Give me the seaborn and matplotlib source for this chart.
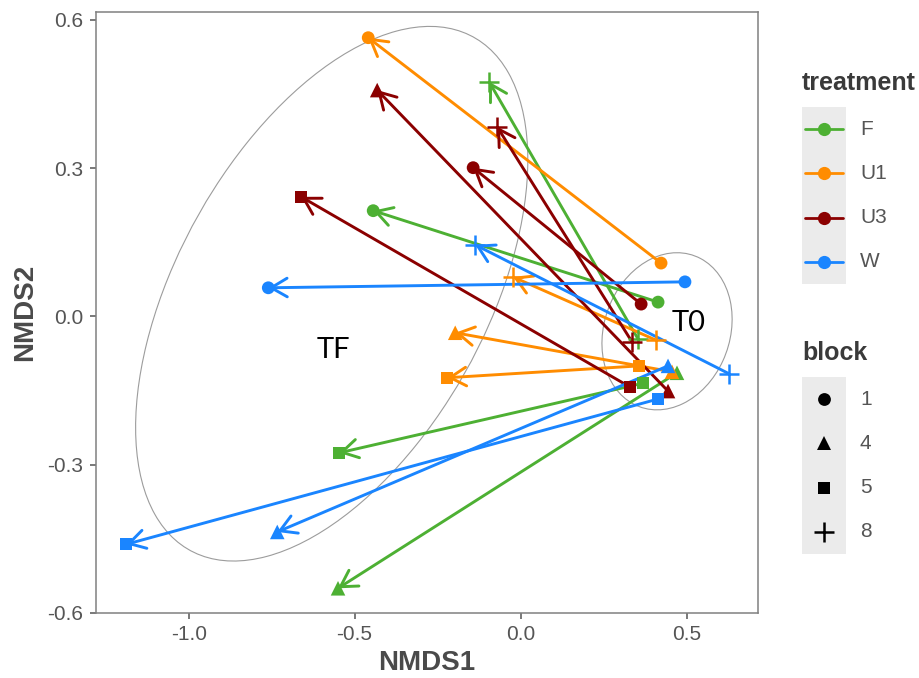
import numpy as np
import pandas as pd
import matplotlib
matplotlib.use("Agg")
import matplotlib.pyplot as plt
from matplotlib.patches import Ellipse, Rectangle
from matplotlib.lines import Line2D
import seaborn as sns

# ---------------- data ----------------
treatments = ["F"] * 4 + ["U1"] * 4 + ["U3"] * 4 + ["W"] * 4
blocks = [1, 4, 5, 8] * 4

# start points (T0)
t0_x = [0.414, 0.471, 0.369, 0.354,
        0.423, 0.456, 0.357, 0.408,
        0.363, 0.444, 0.330, 0.336,
        0.495, 0.444, 0.414, 0.628]
t0_y = [0.029, -0.114, -0.135, -0.046,
        0.108, -0.112, -0.100, -0.048,
        0.025, -0.151, -0.143, -0.052,
        0.070, -0.100, -0.167, -0.116]
# end points (TF)
tf_x = [-0.444, -0.550, -0.547, -0.095,
        -0.459, -0.197, -0.221, -0.023,
        -0.143, -0.432, -0.661, -0.071,
        -0.760, -0.733, -1.188, -0.137]
tf_y = [0.214, -0.550, -0.276, 0.475,
        0.564, -0.033, -0.124, 0.080,
        0.301, 0.458, 0.242, 0.384,
        0.058, -0.436, -0.461, 0.145]

treatment_levels = ["F", "U1", "U3", "W"]
treatment_colors = ["#4DB033", "#FF8C00", "#8B0000", "#1A85FF"]
block_levels = [1, 4, 5, 8]
block_markers = ["o", "^", "s", "+"]
block_sizes = [85, 110, 78, 200]

# group ellipses
ellipse_names = ["TF", "T0"]
ellipse_cx = [-0.569, 0.441]
ellipse_cy = [0.046, -0.030]
ellipse_w = [1.39, 0.40]
ellipse_h = [0.796, 0.308]
ellipse_angle = [40, 18]
label_x = [-0.565, 0.506]
label_y = [-0.068, -0.014]

x_ticks = [-1.0, -0.5, 0.0, 0.5]
x_ticklabels = ["-1.0", "-0.5", "0.0", "0.5"]
y_ticks = [-0.6, -0.3, 0.0, 0.3, 0.6]
y_ticklabels = ["-0.6", "-0.3", "0.0", "0.3", "0.6"]

# ---------------- style ----------------
sns.set_style("white")
plt.rcParams["font.family"] = ["Liberation Sans", "DejaVu Sans"]
plt.rcParams["axes.unicode_minus"] = False

palette = dict(zip(treatment_levels, treatment_colors))
W, H = 920, 678
fig = plt.figure(figsize=(W / 100, H / 100), dpi=100)
L, R, T, B = 96, 758, 12, 613
ax = fig.add_axes([L / W, 1 - B / H, (R - L) / W, (B - T) / H])

df = pd.DataFrame({
    "treatment": treatments * 2,
    "block": blocks * 2,
    "x": t0_x + tf_x,
    "y": t0_y + tf_y,
})

# ellipses
for cx, cy, w, h, a in zip(ellipse_cx, ellipse_cy, ellipse_w, ellipse_h, ellipse_angle):
    ax.add_patch(Ellipse((cx, cy), w, h, angle=a, fill=False,
                         edgecolor="#9c9c9c", lw=0.8, zorder=1))

# arrows
for tr, x0, y0, x1, y1 in zip(treatments, t0_x, t0_y, tf_x, tf_y):
    ax.annotate("", xy=(x1, y1), xytext=(x0, y0),
                arrowprops=dict(arrowstyle="->,head_length=1.15,head_width=0.67",
                                color=palette[tr], lw=2.1, shrinkA=0, shrinkB=0,
                                mutation_scale=10),
                zorder=2)

# points
for b, m, s in zip(block_levels, block_markers, block_sizes):
    sub = df[df["block"] == b]
    kw = dict(linewidth=1.8) if m == "+" else dict(linewidth=0)
    sns.scatterplot(data=sub, x="x", y="y", hue="treatment", palette=palette,
                    marker=m, s=s, legend=False, ax=ax, zorder=3, **kw)

for name, lx, ly in zip(ellipse_names, label_x, label_y):
    ax.text(lx, ly, name, fontsize=21, family=["Lato", "DejaVu Sans"],
            ha="center", va="center", color="black", zorder=4)

ax.set_xlim(-1.279, 0.715)
ax.set_ylim(-0.600, 0.616)
ax.set_xticks(x_ticks)
ax.set_xticklabels(x_ticklabels)
ax.set_yticks(y_ticks)
ax.set_yticklabels(y_ticklabels)
ax.tick_params(axis="both", which="both", direction="out", length=4, width=1.1,
               color="#555555", labelsize=15, labelcolor="#555555", pad=5,
               bottom=True, left=True)
for sp in ax.spines.values():
    sp.set_color("#808080")
    sp.set_linewidth(1.1)
ax.grid(False)

ax.set_xlabel("NMDS1", fontsize=20, fontweight="bold", color="#4a4a4a")
ax.set_ylabel("NMDS2", fontsize=20, fontweight="bold", color="#4a4a4a")
ax.xaxis.set_label_coords(0.5, (B - 663) / (B - T))
ax.xaxis.label.set_va("center")
ax.yaxis.set_label_coords((25 - L) / (R - L), 0.5)
ax.yaxis.label.set_va("center")

# ---------------- legends (manual) ----------------
def fx(px):
    return px / W

def fy(py):
    return 1 - py / H

key_left, key_right = 802, 846
key_h = 44.25

# treatment
fig.text(fx(802), fy(83), "treatment", fontsize=18, fontweight="bold",
         color="#3a3a3a", ha="left", va="center")
top = 107
fig.add_artist(Rectangle((fx(key_left), fy(top + 4 * key_h)), fx(key_right - key_left),
                         4 * key_h / H, transform=fig.transFigure,
                         facecolor="#EBEBEB", edgecolor="none"))
for i, (lev, col) in enumerate(zip(treatment_levels, treatment_colors)):
    cy = top + key_h * (i + 0.5)
    fig.add_artist(Line2D([fx(805), fx(843)], [fy(cy), fy(cy)], color=col, lw=2.0,
                          transform=fig.transFigure))
    fig.add_artist(Line2D([fx(824)], [fy(cy)], marker="o", markersize=9.5,
                          color=col, markeredgewidth=0, transform=fig.transFigure))
    fig.text(fx(860), fy(cy), lev, fontsize=15, color="#555555", ha="left", va="center")

# block
fig.text(fx(802), fy(353), "block", fontsize=18, fontweight="bold",
         color="#3a3a3a", ha="left", va="center")
top = 377
fig.add_artist(Rectangle((fx(key_left), fy(top + 4 * key_h)), fx(key_right - key_left),
                         4 * key_h / H, transform=fig.transFigure,
                         facecolor="#EBEBEB", edgecolor="none"))
for i, (lev, m, s) in enumerate(zip(block_levels, block_markers, block_sizes)):
    cy = top + key_h * (i + 0.5)
    fig.add_artist(Line2D([fx(824)], [fy(cy)], marker=m, markersize=np.sqrt(s),
                          color="black", markeredgewidth=1.8 if m == "+" else 0,
                          linestyle="none", transform=fig.transFigure))
    fig.text(fx(860), fy(cy), str(lev), fontsize=15, color="#555555", ha="left", va="center")

fig.savefig("out.png", dpi=100)
